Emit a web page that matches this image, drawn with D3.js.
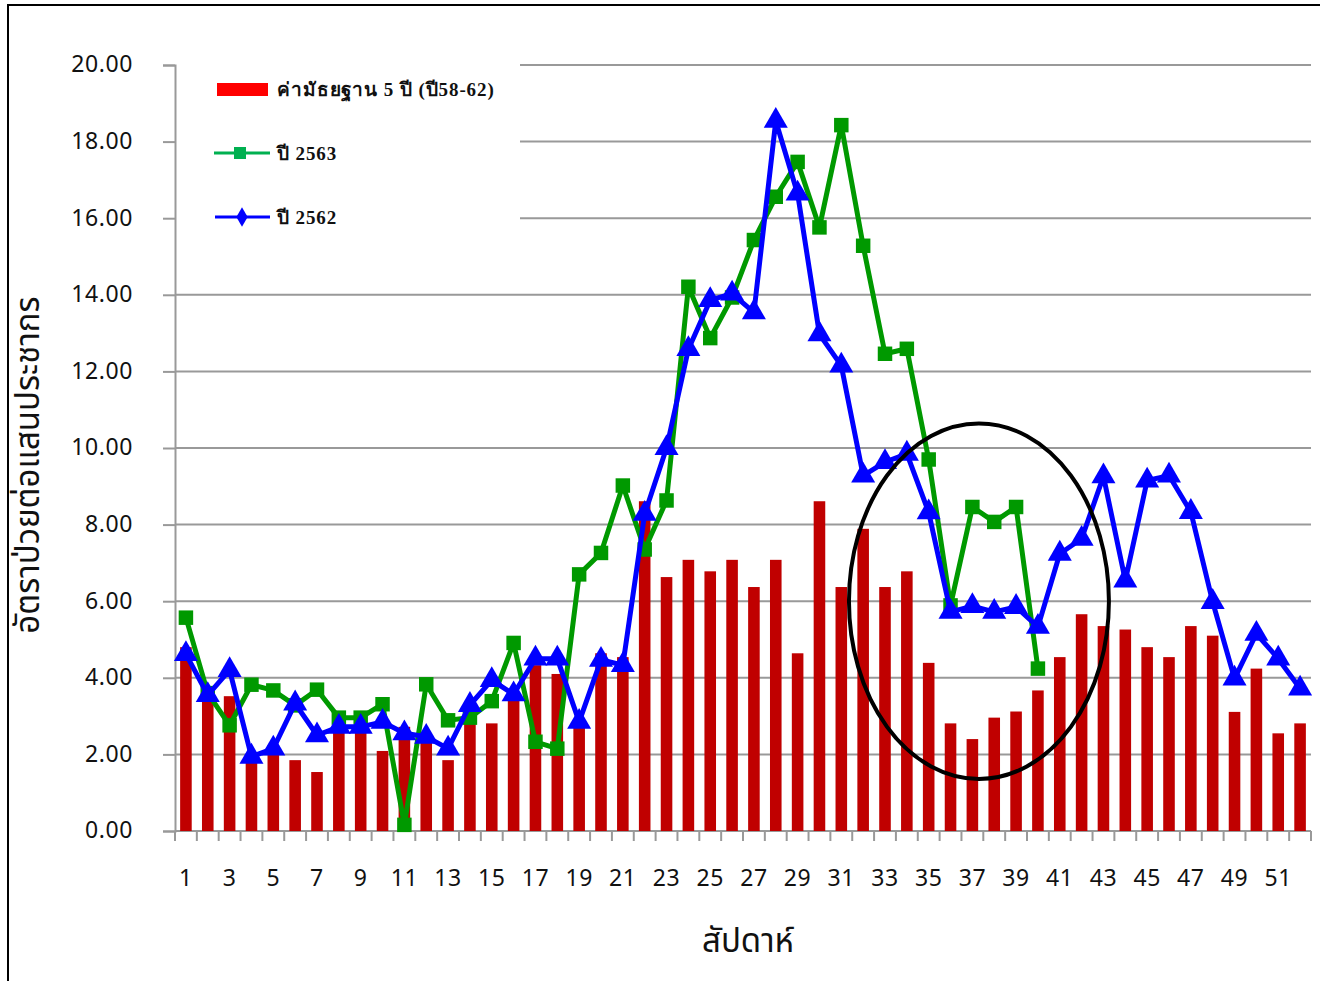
<!DOCTYPE html>
<html>
<head>
<meta charset="utf-8">
<script src="https://cdn.jsdelivr.net/npm/d3@7"></script>
<style>
html,body{margin:0;padding:0;background:#fff;}
svg{display:block;}
</style>
</head>
<body>
<svg id="chart" width="1320" height="981"></svg>
<script>
const weeks = d3.range(1, 53);
const median5y = [4.80,3.60,3.52,1.90,2.24,1.85,1.54,2.60,2.60,2.09,2.72,2.55,1.85,3.00,2.81,3.50,4.33,4.10,2.90,4.64,4.54,8.61,6.63,7.08,6.78,7.08,6.37,7.08,4.64,8.61,6.37,7.89,6.37,6.78,4.39,2.81,2.40,2.96,3.12,3.67,4.54,5.66,5.35,5.26,4.80,4.54,5.35,5.10,3.11,4.24,2.55,2.81];
const y2563 = [5.57,3.60,2.76,3.82,3.67,3.28,3.69,2.96,2.96,3.31,0.16,3.83,2.89,2.96,3.39,4.91,2.33,2.15,6.70,7.26,9.02,7.35,8.63,14.21,12.87,13.93,15.43,16.56,17.47,15.76,18.43,15.28,12.46,12.59,9.70,5.89,8.46,8.07,8.46,4.24];
const y2562 = [4.62,3.55,4.20,1.94,2.15,3.33,2.50,2.72,2.72,2.85,2.55,2.46,2.15,3.29,3.94,3.57,4.50,4.50,2.85,4.47,4.33,8.28,10.00,12.58,13.86,14.03,13.54,18.54,16.64,12.97,12.15,9.28,9.63,9.85,8.32,5.72,5.87,5.72,5.85,5.33,7.24,7.63,9.26,6.54,9.15,9.28,8.33,5.98,3.98,5.15,4.50,3.72];
const yTicks = [0,2,4,6,8,10,12,14,16,18,20];
const xTickLabels = weeks.filter(w => w % 2 === 1);
const legendLabels = ["ค่ามัธยฐาน 5 ปี (ปี58-62)", "ปี 2563", "ปี 2562"];
const yTitle = "อัตราป่วยต่อแสนประชากร";
const xTitle = "สัปดาห์";
// annotation ellipse (in data units: week, value)
const ellipseCenter = [37.3, 6.0];
const ellipseRadius = [5.95, 4.64];

const svg = d3.select("#chart");
const L = 175, R = 1311, T = 65, B = 831;

const x = d3.scaleBand().domain(weeks).range([L, R]).paddingInner(0.47).paddingOuter(0.235);
const xc = w => x(w) + x.bandwidth() / 2;
const y = d3.scaleLinear().domain([0, 20]).range([B, T]);

// frame
svg.append("rect").attr("x", 8).attr("y", 5).attr("width", 1330).attr("height", 1000)
  .attr("fill", "none").attr("stroke", "#000").attr("stroke-width", 2);

// gridlines
const grid = svg.append("g");
grid.selectAll("line").data(yTicks.filter(t => t > 0)).join("line")
  .attr("x1", t => t >= 16 ? 520 : L).attr("x2", R)
  .attr("y1", t => y(t)).attr("y2", t => y(t))
  .attr("stroke", "#999").attr("stroke-width", 2);

// y axis
const yAxis = d3.axisLeft(y).tickValues(yTicks).tickSize(12).tickFormat(d3.format(".2f"));
const ya = svg.append("g").attr("transform", `translate(${L},0)`).call(yAxis);
ya.select(".domain").attr("stroke", "#999").attr("stroke-width", 2);
ya.selectAll(".tick line").attr("stroke", "#999").attr("stroke-width", 2);
ya.selectAll(".tick text").attr("x", -42).attr("dy", "0.3em")
  .attr("font-family", "Noto Sans, sans-serif").attr("font-size", 23).attr("fill", "#111")
  .attr("letter-spacing", 0.6);

// x axis
const xa = svg.append("g").attr("transform", `translate(0,${B})`);
xa.append("line").attr("x1", L).attr("x2", R).attr("y1", 0).attr("y2", 0).attr("stroke", "#999").attr("stroke-width", 2);
const step = x.step();
xa.selectAll("line.tk").data(d3.range(0, 53)).join("line").attr("class", "tk")
  .attr("x1", i => L + i * step).attr("x2", i => L + i * step)
  .attr("y1", 0).attr("y2", 10).attr("stroke", "#999").attr("stroke-width", 2);
xa.selectAll("text").data(xTickLabels).join("text")
  .attr("x", w => xc(w)).attr("y", 55).attr("text-anchor", "middle")
  .attr("font-family", "Noto Sans, sans-serif").attr("font-size", 23).attr("fill", "#111")
  .attr("letter-spacing", 0.6)
  .text(w => w);

// bars
svg.append("g").selectAll("rect").data(median5y).join("rect")
  .attr("x", (v, i) => x(weeks[i])).attr("width", x.bandwidth())
  .attr("y", v => y(v)).attr("height", v => y(0) - y(v))
  .attr("fill", "#C00000");

// lines
function drawSeries(vals, color, marker) {
  const g = svg.append("g");
  const line = d3.line().x((v, i) => xc(weeks[i])).y(v => y(v));
  g.append("path").datum(vals).attr("d", line).attr("fill", "none")
    .attr("stroke", color).attr("stroke-width", 5).attr("stroke-linejoin", "round");
  g.selectAll("path.m").data(vals).join("path").attr("class", "m")
    .attr("transform", (v, i) => `translate(${xc(weeks[i])},${y(v)})`)
    .attr("d", d3.symbol().type(marker).size(marker === d3.symbolSquare ? 210 : 250))
    .attr("fill", color);
}
drawSeries(y2563, "#009900", d3.symbolSquare);
drawSeries(y2562, "#0000FF", d3.symbolTriangle);

// ellipse annotation
svg.append("ellipse")
  .attr("cx", xc(37) + (ellipseCenter[0] - 37) * step)
  .attr("cy", y(ellipseCenter[1]))
  .attr("rx", ellipseRadius[0] * step)
  .attr("ry", y(0) - y(ellipseRadius[1]))
  .attr("fill", "none").attr("stroke", "#000").attr("stroke-width", 4);

// legend
const lg = svg.append("g");
lg.append("rect").attr("x", 217).attr("y", 83).attr("width", 51).attr("height", 13).attr("fill", "#FF0000");
lg.append("line").attr("x1", 214).attr("x2", 270).attr("y1", 153).attr("y2", 153).attr("stroke", "#00B050").attr("stroke-width", 3);
lg.append("rect").attr("x", 234).attr("y", 147).attr("width", 12).attr("height", 12).attr("fill", "#00B050");
lg.append("line").attr("x1", 215).attr("x2", 270).attr("y1", 217).attr("y2", 217).attr("stroke", "#0000FF").attr("stroke-width", 3);
lg.append("path").attr("transform", "translate(242,217)").attr("d", d3.symbol().type(d3.symbolDiamond).size(110)).attr("fill", "#0000FF");
lg.selectAll("text").data(legendLabels).join("text")
  .attr("x", 277).attr("y", (d, i) => [89, 153, 217][i]).attr("dy", "0.35em")
  .attr("font-family", "Liberation Serif, serif").attr("font-size", 19).attr("font-weight", "bold").attr("fill", "#111")
  .attr("letter-spacing", 0.9)
  .text(d => d);

// axis titles
svg.append("text").attr("transform", `translate(39,465) rotate(-90)`).attr("text-anchor", "middle")
  .attr("font-family", "Noto Sans Thai, Noto Sans, sans-serif").attr("font-size", 33).attr("fill", "#111")
  .text(yTitle);
svg.append("text").attr("x", 748).attr("y", 952).attr("text-anchor", "middle")
  .attr("font-family", "Noto Sans Thai, Noto Sans, sans-serif").attr("font-size", 33).attr("fill", "#111")
  .text(xTitle);
</script>
</body>
</html>
